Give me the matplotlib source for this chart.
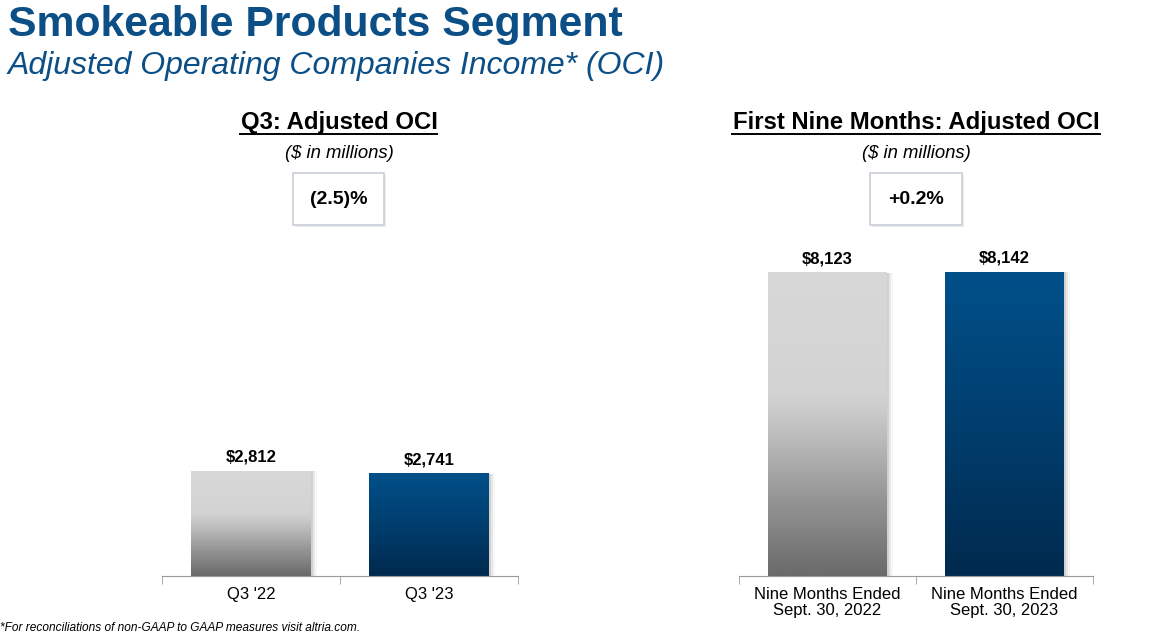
import numpy as np
import matplotlib
matplotlib.use("Agg")
import matplotlib.pyplot as plt
from matplotlib.patches import Rectangle
from matplotlib.lines import Line2D
from matplotlib.colors import LinearSegmentedColormap

plt.rcParams['font.family'] = ['Liberation Sans', 'DejaVu Sans']

# data
q3_labels = ["Q3 '22", "Q3 '23"]
q3_values = [2812, 2741]
q3_change = "(2.5)%"

nine_labels = ["Nine Months Ended\nSept. 30, 2022", "Nine Months Ended\nSept. 30, 2023"]
nine_values = [8123, 8142]
nine_change = "+0.2%"

W, H = 1167, 640
title_blue = "#0b4f86"

grey_cmap = LinearSegmentedColormap.from_list(
    "g", [(0, "#6a6a6a"), (0.25, "#959595"), (0.5, "#c4c4c4"), (0.6, "#d3d3d3"), (1, "#d8d8d8")])
blue_cmap = LinearSegmentedColormap.from_list(
    "b", [(0, "#002a4e"), (0.5, "#003e6e"), (1, "#00508a")])

fig = plt.figure(figsize=(W / 100, H / 100), dpi=100)


def px(x, y):
    return x / W, 1 - y / H


def draw_panel(ax, labels, values):
    ymax = 9000
    width = 0.67
    grad = np.linspace(0, 1, 256).reshape(-1, 1)
    for i, v in enumerate(values):
        cmap = grey_cmap if i == 0 else blue_cmap
        # soft shadow on the right
        for k, a in [(0.012, 0.10), (0.024, 0.06), (0.036, 0.03)]:
            ax.bar(i + k, v, width, bottom=0, color="#000000", alpha=a, zorder=1, lw=0)
        ax.imshow(grad, cmap=cmap, origin="lower", aspect="auto",
                  extent=[i - width / 2, i + width / 2, 0, v], zorder=2)
        ax.annotate(f"${v:,}", (i, v), xytext=(0, 4.5), textcoords="offset points",
                    ha="center", va="bottom", fontsize=12, fontweight="bold")
    ax.set_xlim(-0.5, len(values) - 0.5)
    ax.set_ylim(0, ymax)
    for s in ["top", "right", "left"]:
        ax.spines[s].set_visible(False)
    ax.spines["bottom"].set_color("#9a9a9a")
    ax.set_yticks([])
    ax.set_xticks(range(len(labels)))
    ax.set_xticklabels(labels, fontsize=12, linespacing=1.1)
    ax.tick_params(axis="x", which="major", length=0, pad=8)
    ax.set_xticks([-0.5, 0.5, 1.5], minor=True)
    ax.tick_params(axis="x", which="minor", length=6, color="#9a9a9a", direction="out")


ax1 = fig.add_axes([162 / W, 1 - 576 / H, 356 / W, 336 / H])
draw_panel(ax1, q3_labels, q3_values)
ax2 = fig.add_axes([739 / W, 1 - 576 / H, 354 / W, 336 / H])
draw_panel(ax2, nine_labels, nine_values)

# header
fig.text(*px(8, 25), "Smokeable Products Segment", fontsize=30.8, fontweight="bold",
         color=title_blue, va="center", ha="left")
fig.text(*px(8, 66), "Adjusted Operating Companies Income* (OCI)", fontsize=23,
         style="italic", color=title_blue, va="center", ha="left")


def panel_header(cx, title, x0, x1, change, bx0, bx1):
    fig.text(*px(cx, 122), title, fontsize=17.2, fontweight="bold", ha="center", va="center")
    fig.add_artist(Line2D([x0 / W, x1 / W], [1 - 134 / H, 1 - 134 / H], color="black", lw=1.4))
    fig.text(*px(cx, 154), "($ in millions)", fontsize=13.3, style="italic", ha="center", va="center")
    bw, bh = (bx1 - bx0) / W, 52 / H
    fig.add_artist(Rectangle((bx0 / W + 2 / W, 1 - 227 / H), bw, bh, facecolor="#000000",
                             alpha=0.07, edgecolor="none", transform=fig.transFigure))
    fig.add_artist(Rectangle((bx0 / W, 1 - 225 / H), bw, bh, facecolor="white",
                             edgecolor="#c9ced8", lw=1.2, transform=fig.transFigure))
    fig.text(*px((bx0 + bx1) / 2, 199), change, fontsize=14, fontweight="bold",
             ha="center", va="center")


panel_header(339, "Q3: Adjusted OCI", 240, 437, q3_change, 293, 384)
panel_header(916, "First Nine Months: Adjusted OCI", 732, 1100, nine_change, 870, 962)

fig.text(*px(0, 628), "*For reconciliations of non-GAAP to GAAP measures visit altria.com.",
         fontsize=8.6, style="italic", ha="left", va="center")

fig.savefig("out.png", dpi=100)
